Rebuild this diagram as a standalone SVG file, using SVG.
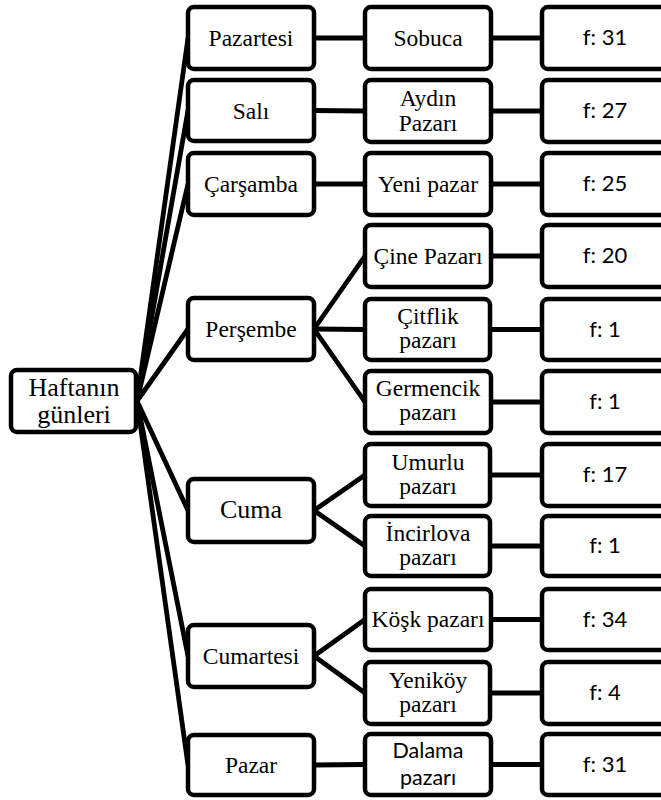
<svg xmlns="http://www.w3.org/2000/svg" width="661" height="800" viewBox="0 0 661 800">
<style>
.box{fill:#fff;stroke:#000;stroke-width:4.5}
.ln{stroke:#000;stroke-width:4.8;fill:none;stroke-linecap:round}
.s{font-family:"Liberation Serif","Times New Roman",serif;font-size:23.5px;text-anchor:middle;fill:#000}
.big{font-size:26px}
.c{font-family:Lato,"Liberation Sans",sans-serif;font-size:22px;text-anchor:middle;fill:#000}
.d{font-size:21.5px}
</style>
<g id="connectors">
<line class="ln" x1="137" y1="401" x2="188" y2="38"/>
<line class="ln" x1="137" y1="401" x2="188" y2="110.5"/>
<line class="ln" x1="137" y1="401" x2="188" y2="184"/>
<line class="ln" x1="137" y1="401" x2="188" y2="329"/>
<line class="ln" x1="137" y1="401" x2="188" y2="510.5"/>
<line class="ln" x1="137" y1="401" x2="188" y2="656"/>
<line class="ln" x1="137" y1="401" x2="188" y2="765"/>
<line class="ln" x1="314" y1="38" x2="365" y2="38"/>
<line class="ln" x1="314" y1="110.5" x2="365" y2="111"/>
<line class="ln" x1="314" y1="184" x2="365" y2="184"/>
<line class="ln" x1="314" y1="329" x2="365" y2="256"/>
<line class="ln" x1="314" y1="329" x2="365" y2="329.5"/>
<line class="ln" x1="314" y1="329" x2="365" y2="402"/>
<line class="ln" x1="314" y1="510.5" x2="365" y2="475"/>
<line class="ln" x1="314" y1="510.5" x2="365" y2="546"/>
<line class="ln" x1="314" y1="656" x2="365" y2="619.5"/>
<line class="ln" x1="314" y1="656" x2="365" y2="693"/>
<line class="ln" x1="314" y1="765" x2="365" y2="764.5"/>
<line class="ln" x1="491" y1="38" x2="542" y2="38"/>
<line class="ln" x1="491" y1="111" x2="542" y2="111"/>
<line class="ln" x1="491" y1="184" x2="542" y2="184"/>
<line class="ln" x1="491" y1="256" x2="542" y2="256"/>
<line class="ln" x1="491" y1="329.5" x2="542" y2="329.5"/>
<line class="ln" x1="491" y1="402" x2="542" y2="402"/>
<line class="ln" x1="491" y1="475" x2="542" y2="475"/>
<line class="ln" x1="491" y1="546" x2="542" y2="546"/>
<line class="ln" x1="491" y1="619.5" x2="542" y2="619.5"/>
<line class="ln" x1="491" y1="693" x2="542" y2="693"/>
<line class="ln" x1="491" y1="764.5" x2="542" y2="764.5"/>
</g>
<g id="root"><rect class="box" x="11" y="370" width="125" height="62" rx="6"/><text class="s big" x="74" y="396">Haftanın</text><text class="s big" x="74" y="423">günleri</text></g>
<g id="d-pazartesi"><rect class="box" x="188" y="7" width="126" height="62" rx="6"/><text class="s" x="251" y="46">Pazartesi</text></g>
<g id="d-sali"><rect class="box" x="188" y="80" width="126" height="61" rx="6"/><text class="s" x="251" y="118.5">Salı</text></g>
<g id="d-carsamba"><rect class="box" x="188" y="153" width="126" height="62" rx="6"/><text class="s" x="251" y="192">Çarşamba</text></g>
<g id="d-persembe"><rect class="box" x="188" y="298" width="126" height="62" rx="6"/><text class="s" x="251" y="337">Perşembe</text></g>
<g id="d-cuma"><rect class="box" x="188" y="479" width="126" height="63" rx="6"/><text class="s big" x="251" y="518">Cuma</text></g>
<g id="d-cumartesi"><rect class="box" x="188" y="625" width="126" height="62" rx="6"/><text class="s" x="251" y="664">Cumartesi</text></g>
<g id="d-pazar"><rect class="box" x="188" y="735" width="126" height="60" rx="6"/><text class="s" x="251" y="773">Pazar</text></g>
<g id="m-sobuca"><rect class="box" x="365" y="7" width="126" height="62" rx="6"/><text class="s" x="428" y="46">Sobuca</text></g>
<g id="m-aydin"><rect class="box" x="365" y="80" width="126" height="62" rx="6"/><text class="s" x="428" y="106">Aydın</text><text class="s" x="428" y="131">Pazarı</text></g>
<g id="m-yenipazar"><rect class="box" x="365" y="153" width="126" height="62" rx="6"/><text class="s" x="428" y="192">Yeni pazar</text></g>
<g id="m-cine"><rect class="box" x="365" y="225" width="126" height="62" rx="6"/><text class="s" x="428" y="264">Çine Pazarı</text></g>
<g id="m-citflik"><rect class="box" x="365" y="299" width="125" height="61" rx="6"/><text class="s" x="428" y="324">Çitflik</text><text class="s" x="428" y="348">pazarı</text></g>
<g id="m-germencik"><rect class="box" x="365" y="371" width="126" height="62" rx="6"/><text class="s" x="428" y="396">Germencik</text><text class="s" x="428" y="420">pazarı</text></g>
<g id="m-umurlu"><rect class="box" x="365" y="444" width="125" height="62" rx="6"/><text class="s" x="428" y="470">Umurlu</text><text class="s" x="428" y="494">pazarı</text></g>
<g id="m-incirlova"><rect class="box" x="365" y="516" width="125" height="60" rx="6"/><text class="s" x="428" y="541">İncirlova</text><text class="s" x="428" y="565">pazarı</text></g>
<g id="m-kosk"><rect class="box" x="365" y="589" width="126" height="61" rx="6"/><text class="s" x="428" y="627">Köşk pazarı</text></g>
<g id="m-yenikoy"><rect class="box" x="365" y="662" width="125" height="62" rx="6"/><text class="s" x="428" y="688">Yeniköy</text><text class="s" x="428" y="712">pazarı</text></g>
<g id="m-dalama"><rect class="box" x="365" y="734" width="126" height="61" rx="6"/><text class="c d" x="428" y="758">Dalama</text><text class="c d" x="428" y="785">pazarı</text></g>
<g id="f-1"><rect class="box" x="542" y="7" width="125" height="62" rx="6"/><text class="c" x="605" y="45">f: 31</text></g>
<g id="f-2"><rect class="box" x="542" y="80" width="125" height="62" rx="6"/><text class="c" x="605" y="118">f: 27</text></g>
<g id="f-3"><rect class="box" x="542" y="153" width="125" height="62" rx="6"/><text class="c" x="605" y="191">f: 25</text></g>
<g id="f-4"><rect class="box" x="542" y="225" width="125" height="62" rx="6"/><text class="c" x="605" y="263">f: 20</text></g>
<g id="f-5"><rect class="box" x="542" y="299" width="125" height="61" rx="6"/><text class="c" x="605" y="337">f: 1</text></g>
<g id="f-6"><rect class="box" x="542" y="371" width="125" height="62" rx="6"/><text class="c" x="605" y="409">f: 1</text></g>
<g id="f-7"><rect class="box" x="542" y="444" width="125" height="62" rx="6"/><text class="c" x="605" y="482">f: 17</text></g>
<g id="f-8"><rect class="box" x="542" y="516" width="125" height="60" rx="6"/><text class="c" x="605" y="553">f: 1</text></g>
<g id="f-9"><rect class="box" x="542" y="589" width="125" height="61" rx="6"/><text class="c" x="605" y="627">f: 34</text></g>
<g id="f-10"><rect class="box" x="542" y="662" width="125" height="62" rx="6"/><text class="c" x="605" y="700">f: 4</text></g>
<g id="f-11"><rect class="box" x="542" y="734" width="125" height="61" rx="6"/><text class="c" x="605" y="772">f: 31</text></g>
</svg>
